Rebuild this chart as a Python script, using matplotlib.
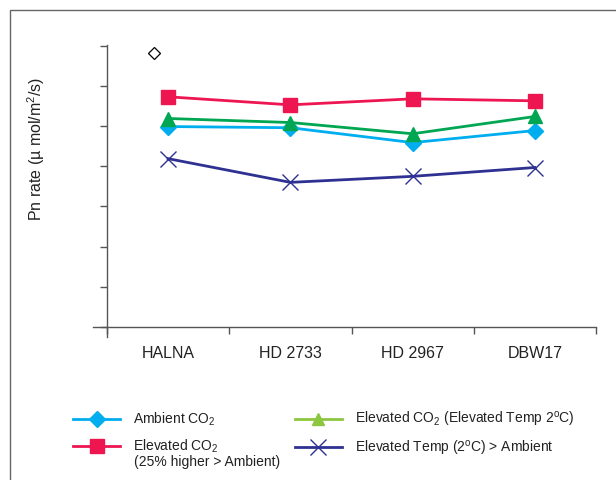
import matplotlib
matplotlib.use("Agg")
import matplotlib.pyplot as plt
from matplotlib.lines import Line2D
from matplotlib.patches import Rectangle

plt.rcParams["font.family"] = ["Liberation Sans", "DejaVu Sans"]
plt.rcParams["mathtext.fontset"] = "custom"
plt.rcParams["mathtext.rm"] = "Liberation Sans"
plt.rcParams["mathtext.it"] = "Liberation Sans:italic"

# varieties and Pn rate values (no scale printed)
varieties = ["HALNA", "HD 2733", "HD 2967", "DBW17"]
ambient = [4.99, 4.96, 4.59, 4.89]
elev_co2 = [5.73, 5.53, 5.68, 5.63]
elev_co2_temp = [5.19, 5.09, 4.81, 5.24]
elev_temp = [4.19, 3.60, 3.75, 3.97]
outlier_x = [0.38]
outlier_y = [6.82]

xpos = [i + 0.5 for i in range(len(varieties))]

fig = plt.figure(figsize=(6.16, 4.80), dpi=100)
ax = fig.add_axes([93 / 616, 1 - 337 / 480, 503 / 616, 292 / 480])

axcol = "#555555"
ax.plot(xpos, ambient, color="#00AEEF", lw=2, marker="D", ms=8, zorder=3)
ax.plot(xpos, elev_co2, color="#ED1651", lw=2, marker="s", ms=10, zorder=3)
ax.plot(xpos, elev_co2_temp, color="#00A651", lw=2, marker="^", ms=10, zorder=3)
ax.plot(xpos, elev_temp, color="#2E3192", lw=2, marker="x", ms=11, mew=1, zorder=3)
ax.plot(outlier_x, outlier_y, ls="none", marker="D", ms=6.5, mfc="white", mec="black", mew=0.9)

ax.set_xlim(-0.115, 4)
ax.set_ylim(-0.25, 7.02)
ax.spines["top"].set_visible(False)
ax.spines["right"].set_visible(False)
ax.spines["left"].set_position(("data", 0))
ax.spines["bottom"].set_position(("data", 0))
for s in ["left", "bottom"]:
    ax.spines[s].set_color(axcol)
    ax.spines[s].set_linewidth(1)

ax.set_yticks(range(0, 8))
ax.set_yticklabels([])
ax.tick_params(axis="y", direction="out", length=5, color=axcol, width=1)
ax.set_xticks(range(0, 5))
ax.set_xticklabels([])
ax.tick_params(axis="x", which="major", direction="out", length=5, color=axcol, width=1)
ax.set_xticks(xpos, minor=True)
ax.set_xticklabels(varieties, minor=True)
ax.tick_params(axis="x", which="minor", length=0, pad=14, labelsize=11.5, labelcolor="#222222")

fig.text(36 / 616, 1 - 149 / 480, "Pn rate (µ mol/m$^2$/s)", rotation=90,
         ha="center", va="center", fontsize=11.5, color="#222222")

handles = [
    Line2D([], [], color="#00AEEF", lw=2, marker="D", ms=8),
    Line2D([], [], color="#ED1651", lw=2, marker="s", ms=10),
    Line2D([], [], color="#8DC63F", lw=2, marker="^", ms=9),
    Line2D([], [], color="#2E3192", lw=2, marker="x", ms=11, mew=1),
]
labels = [
    "Ambient CO$_2$",
    "Elevated CO$_2$",
    "Elevated CO$_2$ (Elevated Temp 2$^\\mathrm{o}$C)",
    "Elevated Temp (2$^\\mathrm{o}$C) > Ambient",
]
fig.legend(handles, labels, loc="upper left", bbox_to_anchor=(73 / 616, 1 - 410 / 480),
           ncol=2, frameon=False, fontsize=10, handlelength=3.4, handletextpad=0.9,
           columnspacing=5.5, labelspacing=0.7, borderpad=0, borderaxespad=0,
           labelcolor="#222222")
fig.text(134 / 616, 1 - 462 / 480, "(25% higher > Ambient)", fontsize=10,
         color="#222222", ha="left", va="center")

fig.add_artist(Rectangle((10 / 616, -0.1), 1.2, 1.1 - 10 / 480, transform=fig.transFigure,
                         fill=False, ec="#666666", lw=1))

fig.savefig("out.png", dpi=100)
